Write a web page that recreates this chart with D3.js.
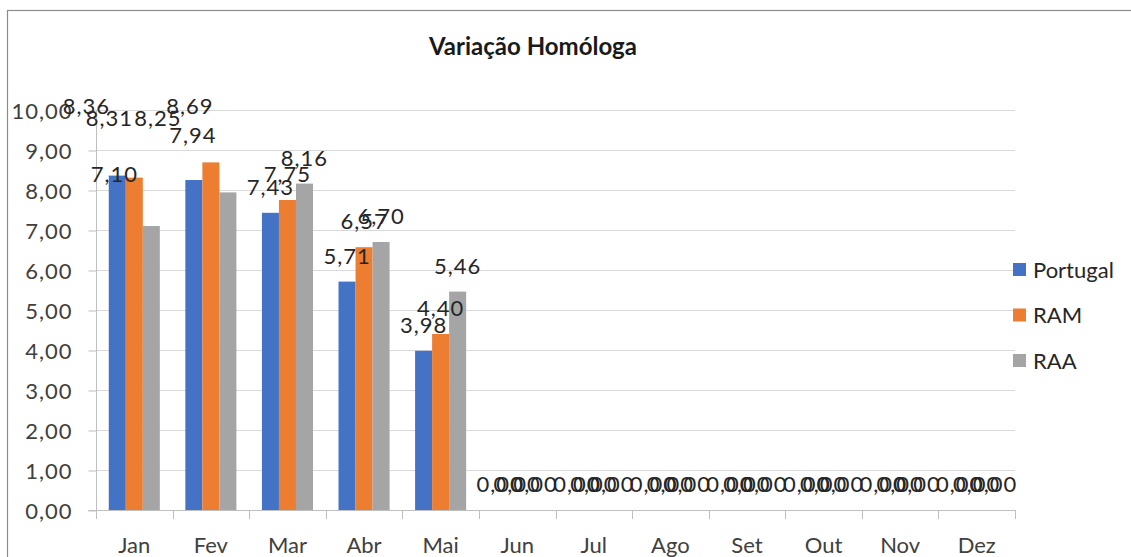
<!DOCTYPE html>
<html>
<head>
<meta charset="utf-8">
<script src="https://cdn.jsdelivr.net/npm/d3@7"></script>
<style>
  html, body { margin: 0; padding: 0; background: #fff; }
  svg { display: block; }
  text { font-family: Lato, "Open Sans", sans-serif; }
</style>
</head>
<body>
<svg id="chart" width="1131" height="557"></svg>
<script>
// ---- data ----
const months = ["Jan","Fev","Mar","Abr","Mai","Jun","Jul","Ago","Set","Out","Nov","Dez"];
const seriesNames = ["Portugal","RAM","RAA"];
const portugal = [8.36, 8.25, 7.43, 5.71, 3.98, 0, 0, 0, 0, 0, 0, 0];
const ram      = [8.31, 8.69, 7.75, 6.57, 4.40, 0, 0, 0, 0, 0, 0, 0];
const raa      = [7.10, 7.94, 8.16, 6.70, 5.46, 0, 0, 0, 0, 0, 0, 0];
const yTicks   = [0,1,2,3,4,5,6,7,8,9,10];
const title    = "Variação Homóloga";

// ---- styling / layout ----
const colors = {Portugal: "#4472C4", RAM: "#ED7D31", RAA: "#A5A5A5"};
const plot = {left: 96, right: 1015, top: 110, bottom: 510};
// labels dragged by hand in the original (pixel nudges from the default "outside end" spot)
const labelNudge = {
  "Jan|Portugal": [-31, -44], "Jan|RAM": [-25, -34], "Jan|RAA": [-37, -26],
  "Fev|Portugal": [-36, -36], "Fev|RAM": [-21, -30], "Fev|RAA": [-35, -31]
};

const seriesValues = {Portugal: portugal, RAM: ram, RAA: raa};
const rows = months.map((m, i) => ({month: m, values: seriesNames.map(s => ({series: s, value: seriesValues[s][i], month: m}))}));

const fmt = v => v.toFixed(2).replace(".", ",");

const svg = d3.select("#chart");

// chart border (cropped on the right/bottom in original)
svg.append("rect").attr("x", 7.5).attr("y", 10.5).attr("width", 1140).attr("height", 570)
  .attr("fill", "#fff").attr("stroke", "#8c8c8c").attr("stroke-width", 1.2);

const x0 = d3.scaleBand().domain(months).range([plot.left, plot.right]).padding(0);
const bw = x0.bandwidth();
const gap = bw * 0.3333;
const x1 = d3.scaleBand().domain(seriesNames).range([gap / 2, bw - gap / 2]).padding(0);
const y = d3.scaleLinear().domain([0, 10]).range([plot.bottom, plot.top]);

// gridlines
svg.append("g").selectAll("line").data(yTicks.filter(t => t > 0)).join("line")
  .attr("x1", plot.left).attr("x2", plot.right)
  .attr("y1", d => Math.round(y(d)) + 0.5).attr("y2", d => Math.round(y(d)) + 0.5)
  .attr("stroke", "#d9d9d9").attr("stroke-width", 1);

// y axis
const yAxis = d3.axisLeft(y).tickValues(yTicks).tickSize(8).tickPadding(16).tickFormat(fmt);
const gy = svg.append("g").attr("transform", `translate(${plot.left + 0.5},0.5)`).call(yAxis);
gy.select(".domain").attr("stroke", "#bfbfbf").attr("d", `M0,${plot.bottom}V${plot.top - 0.5}`);
gy.selectAll(".tick line").attr("stroke", "#bfbfbf");
gy.selectAll(".tick text").attr("fill", "#404040").style("font-size", "22px")
  .style("letter-spacing", "1px").attr("dy", "0.36em").style("font-family", "Lato");

// x axis
const xAxis = d3.axisBottom(x0).tickSize(0).tickPadding(27);
const gx = svg.append("g").attr("transform", `translate(0,${plot.bottom + 0.5})`).call(xAxis);
gx.select(".domain").attr("stroke", "#bfbfbf").attr("d", `M${plot.left - 8},0H${plot.right}`);
gx.selectAll(".tick text").attr("fill", "#404040").style("font-size", "22px").style("font-family", "Lato");
// boundary tick marks
svg.append("g").selectAll("line").data(months.concat(["_end"])).join("line")
  .attr("x1", (d, i) => Math.round(plot.left + i * bw) + 0.5)
  .attr("x2", (d, i) => Math.round(plot.left + i * bw) + 0.5)
  .attr("y1", plot.bottom).attr("y2", plot.bottom + 9)
  .attr("stroke", "#bfbfbf");

// bars
const groups = svg.append("g").selectAll("g").data(rows).join("g")
  .attr("transform", d => `translate(${x0(d.month)},0)`);
groups.selectAll("rect").data(d => d.values).join("rect")
  .attr("x", d => x1(d.series)).attr("width", x1.bandwidth())
  .attr("y", d => y(d.value)).attr("height", d => y(0) - y(d.value))
  .attr("fill", d => colors[d.series]);

// data labels
groups.selectAll("text").data(d => d.values).join("text")
  .attr("x", d => x1(d.series) + x1.bandwidth() / 2 + (labelNudge[d.month + "|" + d.series] || [0, 0])[0])
  .attr("y", d => y(d.value) - 26 + (labelNudge[d.month + "|" + d.series] || [0, 0])[1])
  .attr("dy", "0.36em")
  .attr("text-anchor", "middle")
  .style("font-size", "22px").style("letter-spacing", "1px")
  .attr("fill", "#262626")
  .text(d => fmt(d.value));

// title
svg.append("text").attr("x", 533).attr("y", 55).attr("text-anchor", "middle")
  .style("font-size", "24px").style("font-weight", "bold").attr("fill", "#1a1a1a")
  .text(title);

// legend
const legend = svg.append("g").selectAll("g").data(seriesNames).join("g")
  .attr("transform", (d, i) => `translate(1013,${270 + i * 45.5})`);
legend.append("rect").attr("x", 0).attr("y", -7).attr("width", 13).attr("height", 13)
  .attr("fill", d => colors[d]);
legend.append("text").attr("x", 20).attr("y", 0).attr("dy", "0.36em")
  .style("font-size", "22px").attr("fill", "#262626").text(d => d);
</script>
</body>
</html>
